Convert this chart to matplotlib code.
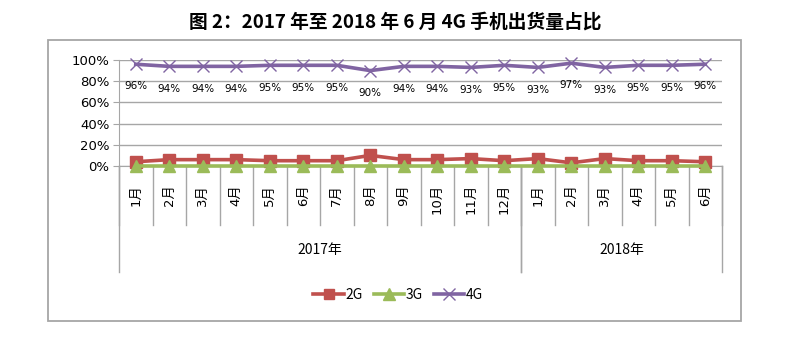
import matplotlib
matplotlib.use('Agg')
import numpy as np
import matplotlib.pyplot as plt
from matplotlib.patches import Rectangle
from matplotlib.lines import Line2D

plt.rcParams['font.family'] = ['Noto Sans CJK SC', 'DejaVu Sans']
latin = ['DejaVu Sans', 'Noto Sans CJK SC']

## data
months = ['1月', '2月', '3月', '4月', '5月', '6月', '7月', '8月', '9月', '10月', '11月', '12月',
          '1月', '2月', '3月', '4月', '5月', '6月']
years = ['2017年', '2018年']
year_len = [12, 6]
share_2g = [4, 6, 6, 6, 5, 5, 5, 10, 6, 6, 7, 5, 7, 3, 7, 5, 5, 4]
share_3g = [0, 0, 0, 0, 0, 0, 0, 0, 0, 0, 0, 0, 0, 0, 0, 0, 0, 0]
share_4g = [96, 94, 94, 94, 95, 95, 95, 90, 94, 94, 93, 95, 93, 97, 93, 95, 95, 96]

W, H = 794, 348
fig = plt.figure(figsize=(W / 100.0, H / 100.0), dpi=100)

# outer frame
fig.patches.append(Rectangle((48.0 / W, 1 - 321.0 / H), (741 - 48.0) / W, (321 - 40.0) / H,
                             transform=fig.transFigure, fill=False, edgecolor='#a6a6a6', lw=1.3))

fig.text(395.0 / W, 1 - 22.0 / H, '图 2：2017 年至 2018 年 6 月 4G 手机出货量占比',
         ha='center', va='center', fontsize=13.5, fontweight='bold')

# plot area: x 119..722, y 60..166 px
ax = fig.add_axes([119.0 / W, 1 - 166.0 / H, (722 - 119.0) / W, (166 - 60.0) / H])
x = np.arange(len(months))
ax.set_xlim(-0.5, len(months) - 0.5)
ax.set_ylim(0, 100)

ax.plot(x, share_2g, color='#C0504D', lw=2.6, marker='s', ms=8, label='2G', zorder=3, clip_on=False)
ax.plot(x, share_3g, color='#9BBB59', lw=2.6, marker='^', ms=8.5, label='3G', zorder=4, clip_on=False)
ax.plot(x, share_4g, color='#8064A2', lw=2.6, marker='x', ms=8, mew=1.0, label='4G', zorder=3, clip_on=False)

for xi, v in zip(x, share_4g):
    ax.annotate('%d%%' % v, (xi, v), xytext=(0, -16), textcoords='offset points',
                ha='center', va='center', fontsize=7.5, family=latin)

ax.set_yticks(np.arange(0, 101, 20))
ax.set_yticklabels(['%d%%' % t for t in range(0, 101, 20)], fontsize=9.5, family=latin)
ax.yaxis.grid(True, color='#a6a6a6', lw=1.0)
ax.set_axisbelow(True)
ax.tick_params(axis='y', length=4, color='#a6a6a6', pad=3)
ax.set_xticks([])
for s in ['top', 'right']:
    ax.spines[s].set_visible(False)
ax.spines['left'].set_color('#a6a6a6')
ax.spines['bottom'].set_color('#a6a6a6')

# category axis drawn by hand: month separators and year groups
axh = 166 - 60.0
y_month = -(225 - 166) / axh
y_group = -(272 - 166) / axh
trans = ax.get_xaxis_transform()
for i in range(len(months) + 1):
    ax.plot([i - 0.5, i - 0.5], [0, y_month], transform=trans, color='#a6a6a6', lw=1.0, clip_on=False)
for xi, m in zip(x, months):
    ax.text(xi, -(184 - 166) / axh, m, transform=trans, rotation=90, ha='center', va='top',
            fontsize=9.5, family=latin)
start = 0
for yr, n in zip(years, year_len):
    for b in [start, start + n]:
        ax.plot([b - 0.5, b - 0.5], [0, y_group], transform=trans, color='#a6a6a6', lw=1.0, clip_on=False)
    ax.text(start + (n - 1) / 2.0, -(250 - 166) / axh, yr, transform=trans, ha='center', va='center', fontsize=10)
    start += n

handles = [Line2D([], [], color='#C0504D', lw=2.6, marker='s', ms=7.5),
           Line2D([], [], color='#9BBB59', lw=2.6, marker='^', ms=8),
           Line2D([], [], color='#8064A2', lw=2.6, marker='x', ms=8, mew=1.0)]
fig.legend(handles, ['2G', '3G', '4G'], loc='center', bbox_to_anchor=(398.0 / W, 1 - 295.0 / H),
           ncol=3, frameon=False, fontsize=10, handlelength=2.2, handletextpad=0.1, columnspacing=0.8)

plt.savefig('out.png', dpi=100)
